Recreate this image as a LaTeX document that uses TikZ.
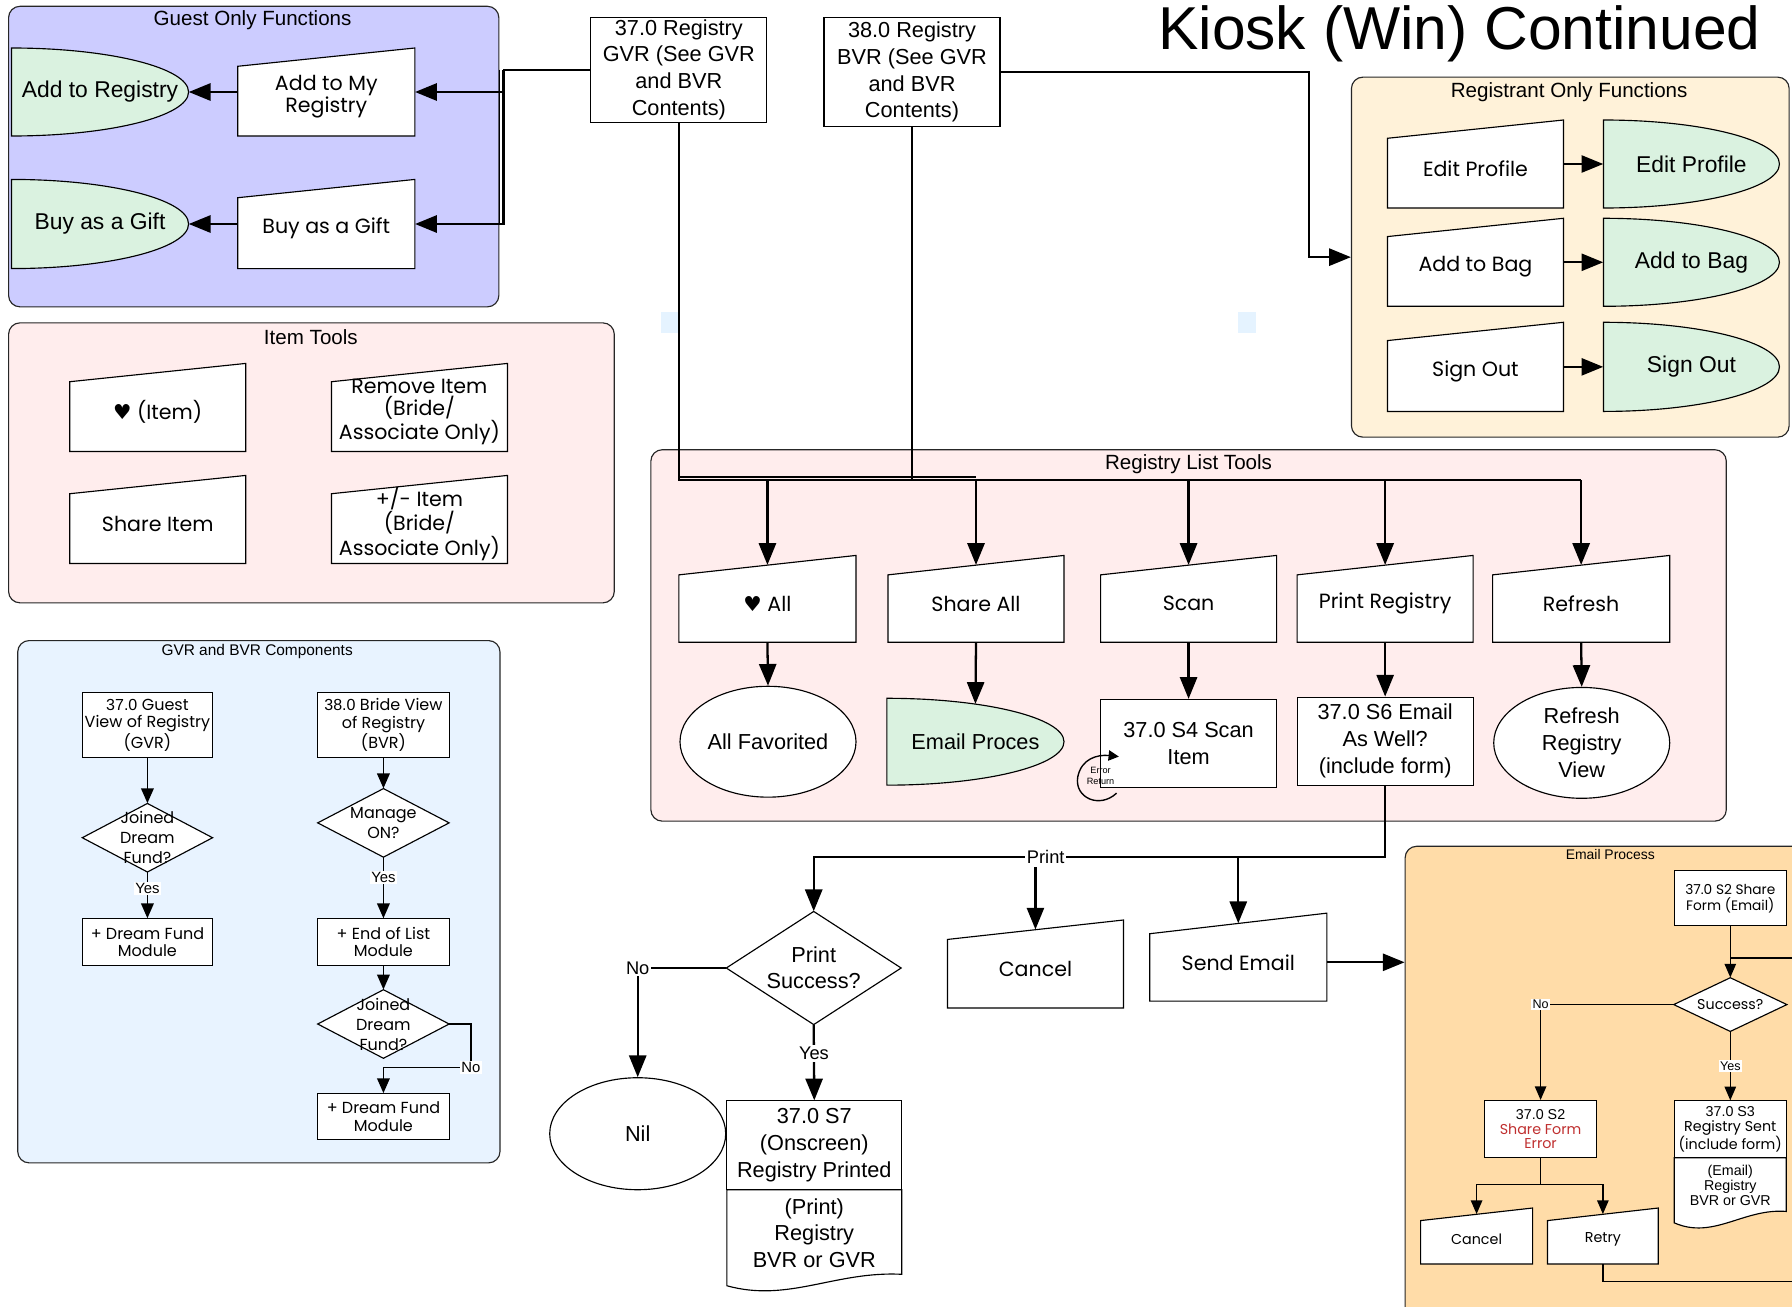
\documentclass[tikz,border=0pt]{standalone}
\usepackage{fontspec}
\setmainfont{Liberation Sans}
\newfontfamily\cg{Poppins}
\newfontfamily\dv{DejaVu Sans}
\usetikzlibrary{arrows.meta,calc,shapes.geometric}
\definecolor{guestbg}{RGB}{204,204,255}
\definecolor{pinkbg}{RGB}{255,237,237}
\definecolor{regbg}{RGB}{255,242,217}
\definecolor{bluebg}{RGB}{232,243,255}
\definecolor{peachbg}{RGB}{255,220,168}
\definecolor{greenbg}{RGB}{218,242,224}
\definecolor{errred}{RGB}{192,48,48}
\definecolor{speck}{RGB}{229,243,255}
\newcommand\fs[2]{\fontsize{#1}{#2}\selectfont}
\newcommand\hrt{{\dv ♥}}
% manual input: [slant]{name}{xl}{ytopright}{ybottom}{w}{text}{font}
\newcommand\manin[8][16]{%
  \filldraw[sh, fill=white] (#3,{#4+#1}) -- ({#3+#6},#4) -- ({#3+#6},#5) -- (#3,#5) -- cycle;
  \node[tx, minimum width=#6pt, minimum height={#5pt-#4pt-#1pt/2}, font=#8] (#2) at ({#3+#6/2},{(#4+#1/2+#5)/2}) {#7};
}
% half ellipse (green): {name}{xl}{yt}{yb}{w}{text}{font}
\newcommand\delayg[7]{%
  \filldraw[sh, fill=greenbg] (#2,#3) arc[start angle=-90, end angle=90, x radius=#5, y radius={(#4-#3)/2}] -- cycle;
  \node[tx, minimum width=#5pt, minimum height={0.866*(#4pt-#3pt)}, font=#7] (#1) at ({#2+#5/2},{(#3+#4)/2}) {#6};
}
% diamond: {name}{cx}{cy}{w}{h}{text}{font}
\newcommand\dia[7]{%
  \filldraw[sh, fill=white] ({#2-#4/2},#3) -- (#2,{#3-#5/2}) -- ({#2+#4/2},#3) -- (#2,{#3+#5/2}) -- cycle;
  \node[tx, minimum width=#4pt, minimum height=#5pt, font=#7] (#1) at (#2,#3) {#6};
}
% document: {name}{xl}{yt}{ymid}{xr}{ybot}{top}{bottom}{font}
\newcommand\docu[9]{%
  \filldraw[sh, fill=white] (#2,#4) -- (#5,#4) -- (#5,{#6-10}) .. controls ({#5-0.38*(#5-#2)},{#6-13}) and ({#2+0.35*(#5-#2)},{#6+15}) .. (#2,#6) -- cycle;
  \filldraw[sh, fill=white] (#2,#3) rectangle (#5,#4);
  \node[tx, minimum width={#5pt-#2pt}, minimum height={#4pt-#3pt}, font=#9] (#1) at ({(#2+#5)/2},{(#3+#4)/2}) {#7};
  \node[tx, font=#9] (#1b) at ({(#2+#5)/2},{(#4+#6)/2-4}) {#8};
}
\tikzset{
  grp/.style={draw=black!85, line width=1pt, rounded corners=10pt, anchor=north west, inner sep=0pt},
  ttl/.style={font=\fs{18}{20}, inner sep=0pt},
  sh/.style={line width=1pt},
  tx/.style={align=center, inner sep=0pt},
  bx/.style={draw, line width=1pt, fill=white, align=center, inner sep=0pt},
  ell/.style={ellipse, draw, line width=1pt, fill=white, align=center, inner sep=0pt},
  ln/.style={line width=2pt},
  conn/.style={line width=2pt, -{Triangle[length=19pt,width=15pt]}},
  ln2/.style={line width=1.4pt},
  conn2/.style={line width=1.5pt, -{Triangle[length=13pt,width=11pt]}},
  conn3/.style={line width=1.3pt, -{Triangle[length=12pt,width=10pt]}},
  lbl/.style={fill=white, inner sep=1.5pt, font=\fs{15}{15}},
}
\begin{document}
\begin{tikzpicture}[x=1pt,y=-1pt]
\useasboundingbox (0,0) rectangle (1568,1143);
\fill[white] (0,0) rectangle (1568,1143);

% ---------- group boxes ----------
\node[grp, fill=guestbg, minimum width=429pt, minimum height=263pt] (guestbox) at (7,5) {};
\node[ttl] (guestttl) at (221,18) {Guest Only Functions};
\node[grp, fill=regbg, minimum width=383pt, minimum height=315pt] (regbox) at (1182,67) {};
\node[ttl] (regttl) at (1373,81) {Registrant Only Functions};
\node[grp, fill=pinkbg, minimum width=530pt, minimum height=245pt] (itembox) at (7,282) {};
\node[ttl] (itemttl) at (272,295) {Item Tools};
\node[grp, fill=bluebg, minimum width=422pt, minimum height=457pt] (gvrbox) at (15,560) {};
\node[ttl, font=\fs{13.5}{14}] (gvrttl) at (225,570) {GVR and BVR Components};
\node[grp, fill=pinkbg, minimum width=941pt, minimum height=325pt] (listbox) at (569,393) {};
\node[ttl] (listttl) at (1040,406) {Registry List Tools};
\node[grp, fill=peachbg, minimum width=360pt, minimum height=430pt] (emailbox) at (1229,740) {};
\node[ttl, font=\fs{12.2}{13}] (emailttl) at (1409,748) {Email Process};

\fill[speck] (578,273) rectangle (593,291);
\fill[speck] (1083,273) rectangle (1099,291);

% ---------- title ----------
\node[inner sep=0pt, font=\fs{53}{56}] (title) at (1277,30) {Kiosk (Win) Continued};

% ---------- top registry boxes ----------
\node[bx, minimum width=154pt, minimum height=92pt, font=\fs{19}{23.5}] (r37) at (594,61) {37.0 Registry\\GVR (See GVR\\and BVR\\Contents)};
\node[bx, minimum width=154pt, minimum height=96pt, font=\fs{19}{23.5}] (r38) at (798,63) {38.0 Registry\\BVR (See GVR\\and BVR\\Contents)};

% ---------- guest functions ----------
\delayg{addreg}{10}{42}{119}{155}{Add to Registry}{\fs{20}{22}}
\manin{addmy}{208}{42}{119}{155}{Add to My\\Registry}{\cg\fs{18}{19}}
\delayg{buyg}{10}{157}{235}{155}{Buy as a Gift}{\fs{20}{22}}
\manin{buymi}{208}{157}{235}{155}{Buy as a Gift}{\cg\fs{18}{19}}
\draw[conn] (addmy.west |- addreg.east) -- (addreg.east);
\draw[conn] (buymi.west |- buyg.east) -- (buyg.east);
\draw[ln] (r37.west) -- ++(-76,0) coordinate (gbus);
\draw[conn] (gbus) |- (addmy.east |- addreg.east);
\draw[conn] (gbus) |- (buymi.east |- buyg.east);
\draw[line width=1.2pt] ($(gbus)+(-3.5,0)$) -- ($(gbus |- buyg.east)+(-3.5,0)$);

% ---------- registrant functions ----------
\manin{ep}{1214}{105}{182}{154}{Edit Profile}{\cg\fs{18}{19}}
\delayg{epg}{1403}{105}{182}{154}{Edit Profile}{\fs{20}{22}}
\manin{ab}{1214}{191}{268}{154}{Add to Bag}{\cg\fs{18}{19}}
\delayg{abg}{1403}{191}{268}{154}{Add to Bag}{\fs{20}{22}}
\manin{so}{1214}{282}{360}{154}{Sign Out}{\cg\fs{18}{19}}
\delayg{sog}{1403}{282}{360}{154}{Sign Out}{\fs{20}{22}}
\draw[conn] (ep.east |- epg.west) -- (epg.west);
\draw[conn] (ab.east |- abg.west) -- (abg.west);
\draw[conn] (so.east |- sog.west) -- (sog.west);
\draw[conn] (r38.east) -- ++(270,0) |- (regbox.west);

% ---------- item tools ----------
\manin{favitem}{61}{318}{395}{154}{\hrt\ (Item)}{\cg\fs{18}{19.5}}
\manin{remitem}{290}{318}{395}{154}{Remove Item\\(Bride/\\Associate Only)}{\cg\fs{18}{19.5}}
\manin{shareitem}{61}{416}{493}{154}{Share Item}{\cg\fs{18}{19.5}}
\manin{pmitem}{290}{416}{493}{154}{+/- Item\\(Bride/\\Associate Only)}{\cg\fs{18}{19.5}}

% ---------- GVR / BVR components ----------
\node[bx, minimum width=114pt, minimum height=57pt, font=\fs{14}{15.5}] (gvr) at (129,634.5) {37.0 {\cg Guest}\\{\cg View of Registry}\\{\cg (GVR)}};
\dia{jdfa}{129}{733}{114}{60}{Joined\\Dream\\Fund?}{\cg\fs{14}{17.5}}
\node[bx, minimum width=114pt, minimum height=41pt, font=\cg\fs{14}{15}] (dfma) at (129,824.5) {+ Dream Fund\\Module};
\node[bx, minimum width=115pt, minimum height=57pt, font=\fs{14}{15.5}] (bvr) at (335.5,634.5) {38.0 {\cg Bride View}\\{\cg of Registry}\\{\cg (BVR)}};
\dia{mon}{335.5}{720}{115}{60}{Manage\\ON?}{\cg\fs{14}{18}}
\node[bx, minimum width=115pt, minimum height=41pt, font=\cg\fs{14}{15}] (eol) at (335.5,824.5) {+ End of List\\Module};
\dia{jdfb}{335.5}{896}{115}{60}{Joined\\Dream\\Fund?}{\cg\fs{14}{17.5}}
\node[bx, minimum width=115pt, minimum height=40pt, font=\cg\fs{14}{15}] (dfmb) at (335.5,977) {+ Dream Fund\\Module};
\draw[conn2] (gvr.south) -- (jdfa.north);
\draw[conn2] (jdfa.south) -- node[lbl, pos=0.35, font=\fs{13}{13}, inner sep=1pt] {Yes} (dfma.north);
\draw[conn2] (bvr.south) -- (mon.north);
\draw[conn2] (mon.south) -- node[lbl, pos=0.33, font=\fs{13}{13}, inner sep=1pt] {Yes} (eol.north);
\draw[conn2] (eol.south) -- (jdfb.north);
\draw[conn2] (jdfb.east) -| (412,934) node[lbl, font=\fs{13}{13}, inner sep=1pt] {No} -| (dfmb.north);

% ---------- registry list tools ----------
\manin[17]{favall}{594}{486}{562}{155}{\hrt\ All}{\cg\fs{18}{19}}
\manin[17]{shareall}{777}{486}{562}{154}{Share All}{\cg\fs{18}{19}}
\manin[17]{scan}{963}{486}{562}{154}{Scan}{\cg\fs{18}{19}}
\manin[17]{printreg}{1135}{486}{562}{154}{Print Registry}{\cg\fs{18}{19}}
\manin[17]{refresh}{1306}{486}{562}{155}{Refresh}{\cg\fs{18}{19}}
\node[ell, minimum width=154pt, minimum height=97pt, font=\fs{19}{23}] (allfav) at (672,649) {All Favorited};
\delayg{emailproc}{776}{611}{687}{155}{Email Proces}{\fs{19}{23}}
\node[bx, minimum width=154pt, minimum height=77pt, font=\fs{19}{24}] (s4) at (1040,650.5) {37.0 S4 Scan\\Item};
\node[bx, minimum width=154pt, minimum height=77pt, font=\fs{19}{23.5}] (s6) at (1212,648.5) {37.0 S6 Email\\As Well?\\(include form)};
\node[ell, minimum width=154pt, minimum height=97pt, font=\fs{19}{23.5}] (rrv) at (1384,650) {Refresh\\Registry\\View};

\coordinate (busy) at (0,420);
\draw[ln] (r37.south) -- (r37.south |- busy) -- (refresh.north |- busy);
\draw[ln] (r38.south) -- (r38.south |- busy);
\draw[line width=1.5pt] ($(r37.south |- busy)+(0,-2.5)$) -- ($(shareall.north |- busy)+(0,-2.5)$);
\draw[conn] (favall.north |- busy) -- (favall.north);
\draw[conn] (shareall.north |- busy) -- (shareall.north);
\draw[conn] (scan.north |- busy) -- (scan.north);
\draw[conn] (printreg.north |- busy) -- (printreg.north);
\draw[conn] (refresh.north |- busy) -- (refresh.north);
\draw[conn] (favall.south) -- (allfav.north);
\draw[conn] (shareall.south) -- (emailproc.north);
\draw[conn] (scan.south) -- (s4.north);
\draw[conn] (printreg.south) -- (s6.north);
\draw[conn] (refresh.south) -- (rrv.north);
% error return loop
\node[tx, font=\fs{8}{9}] (errret) at (963,679) {Error\\Return};
\draw[line width=1.2pt, -{Triangle[length=9pt,width=9pt]}] (977,694) .. controls (962,708) and (940,698) .. (943,680) .. controls (946,664) and (960,660) .. (979,662);

% ---------- print branch ----------
\dia{psucc}{712}{847}{153}{99}{Print\\Success?}{\fs{19}{23}}
\node[ell, minimum width=154pt, minimum height=98pt, font=\fs{19}{23}] (nil) at (558,992) {Nil};
\docu{s7}{636}{963}{1041}{789}{1125}{37.0 S7\\(Onscreen)\\Registry Printed}{(Print)\\Registry\\BVR or GVR}{\fs{19}{23.5}}
\manin[17]{cancela}{829}{805}{882}{154}{Cancel}{\cg\fs{18}{19}}
\manin[18]{sendemail}{1006}{799}{876}{155}{Send Email}{\cg\fs{18}{19}}

\coordinate (printy) at (0,750);
\draw[conn] (s6.south) -- (s6.south |- printy) -- node[lbl, pos=0.594, font=\fs{16}{16}] {Print} (psucc.north |- printy) -- (psucc.north);
\draw[conn] ($(cancela.north |- printy)+(0,9)$) -- (cancela.north);
\draw[conn] (sendemail.north |- printy) -- (sendemail.north);
\draw[conn] (psucc.west) -- (nil.north |- psucc.west) node[lbl, font=\fs{16}{16}] {No} -- (nil.north);
\draw[conn] (psucc.south) -- node[lbl, pos=0.38, font=\fs{16}{16}] {Yes} (s7.north);
\draw[conn] (sendemail.east) -- (emailbox.west |- sendemail.east);

% ---------- email process ----------
\node[bx, minimum width=98pt, minimum height=48pt, font=\cg\fs{12}{14}] (s2share) at (1514,786) {37.0 S2 Share\\Form (Email)};
\dia{succ}{1514}{879}{99}{47}{Success?}{\cg\fs{12.5}{14}}
\node[bx, minimum width=98pt, minimum height=50pt, font=\fs{12.5}{12.5}] (s2err) at (1348,988) {37.0 S2\\{\cg\color{errred}Share Form}\\{\cg\color{errred}Error}};
\docu{s3}{1465}{963}{1013}{1563}{1070}{37.0 S3\\{\cg Registry Sent}\\{\cg (include form)}}{(Email)\\Registry\\BVR or GVR}{\fs{12.5}{13}}
\manin[11]{cancelb}{1243}{1057}{1106}{98}{Cancel}{\cg\fs{12.5}{13}}
\manin[11]{retry}{1354}{1057}{1106}{97}{Retry}{\cg\fs{12.5}{13}}
\draw[conn3] (s2share.south) -- (succ.north);
\draw[ln2] ($(s2share.south)!0.62!(succ.north)$) coordinate (jn) -- (emailbox.east |- jn);
\draw[conn3] (succ.west) -- (s2err.north |- succ.west) node[lbl, font=\fs{11}{11}, inner sep=1pt] {No} -- (s2err.north);
\draw[conn3] (succ.south) -- node[lbl, font=\fs{11}{11}, inner sep=1pt] {Yes} (s3.north);
\draw[ln2] (s2err.south) -- ++(0,23) coordinate (spl);
\draw[conn3] (spl) -| (cancelb.north);
\draw[conn3] (spl) -| (retry.north);
\draw[ln2] (retry.south) -- ++(0,15) coordinate (rt) -- (emailbox.east |- rt);
\end{tikzpicture}
\end{document}
